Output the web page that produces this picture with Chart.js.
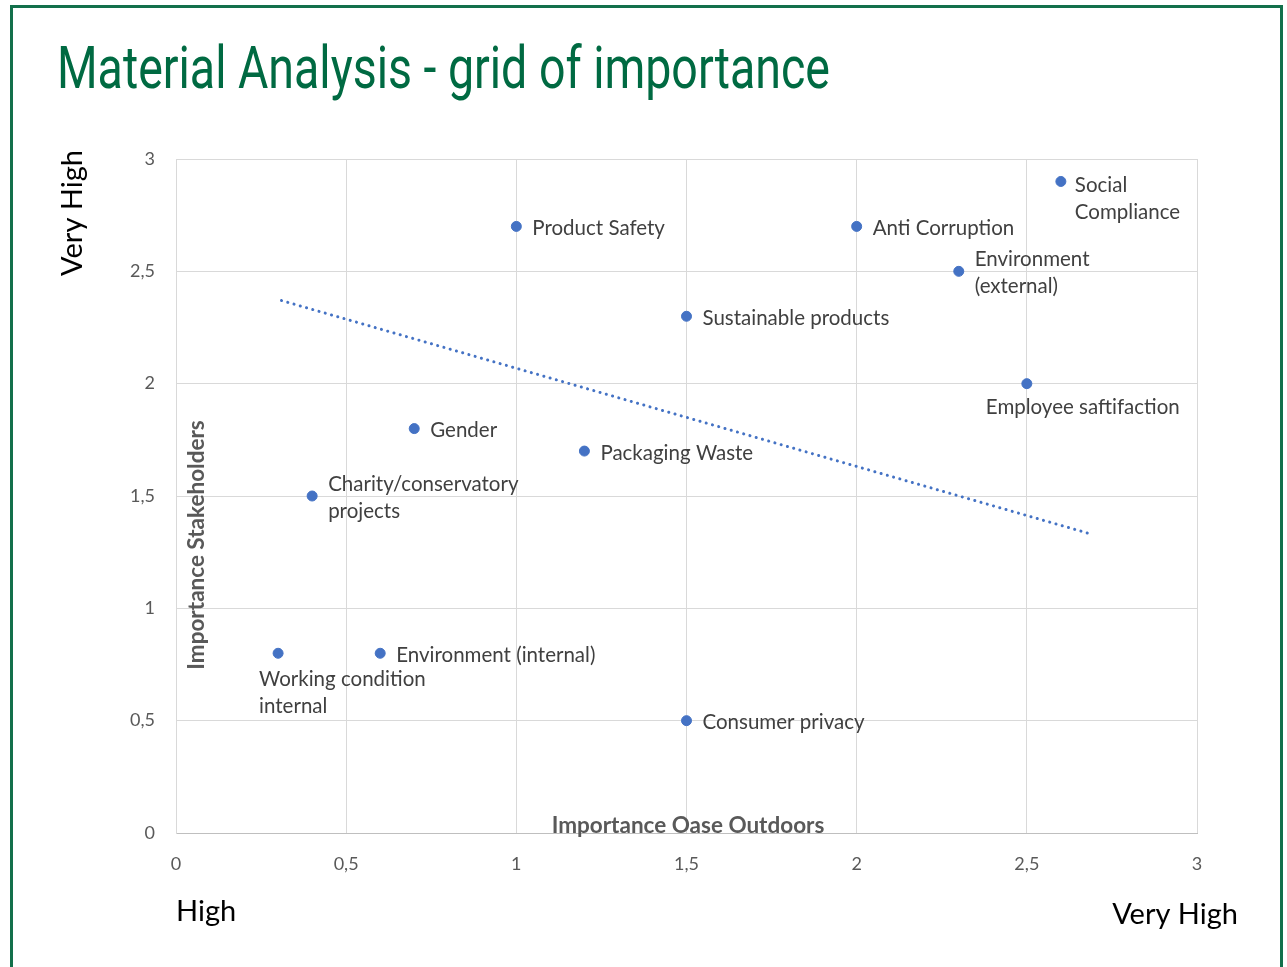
<!DOCTYPE html>
<html>
<head>
<meta charset="utf-8">
<script src="https://cdn.jsdelivr.net/npm/chart.js@4/dist/chart.umd.min.js"></script>
<style>
  html, body { margin: 0; padding: 0; background: #fff; }
  #wrap { position: relative; width: 1287px; height: 967px; overflow: hidden; }
  #frame { position: absolute; left: 10px; top: 5px; width: 1273px; height: 980px;
           border: 3px solid #13704b; box-sizing: border-box; pointer-events: none; }
  canvas { position: absolute; left: 0; top: 0; }
</style>
</head>
<body>
<div id="wrap">
  <canvas id="c" width="1287" height="967"></canvas>
  <div id="frame"></div>
</div>
<script>
// ---- data ----
const topics = ["Social Compliance", "Product Safety", "Anti Corruption", "Environment (external)",
  "Sustainable products", "Employee saftifaction", "Gender", "Packaging Waste",
  "Charity/conservatory projects", "Working condition internal", "Environment (internal)", "Consumer privacy"];
const importanceOase = [2.6, 1.0, 2.0, 2.3, 1.5, 2.5, 0.7, 1.2, 0.4, 0.3, 0.6, 1.5];
const importanceStakeholders = [2.9, 2.7, 2.7, 2.5, 2.3, 2.0, 1.8, 1.7, 1.5, 0.8, 0.8, 0.5];
const trendX = [0.31, 2.69];
const trendY = [2.37, 1.33];
const xTicks = [0, 0.5, 1, 1.5, 2, 2.5, 3];
const yTicks = [0, 0.5, 1, 1.5, 2, 2.5, 3];

// label lines and placement style
const labelLines = [["Social", "Compliance"], ["Product Safety"], ["Anti Corruption"], ["Environment", "(external)"],
  ["Sustainable products"], ["Employee saftifaction"], ["Gender"], ["Packaging Waste"],
  ["Charity/conservatory", "projects"], ["Working condition", "internal"], ["Environment (internal)"], ["Consumer privacy"]];
const labelPlace = ["rightTop", "right", "right", "right", "right", "below2", "right", "right",
  "right", "below", "right", "right"];

const fmt = v => String(v).replace('.', ',');
const FONT = 'Lato, "Open Sans", sans-serif';

const overlay = {
  id: 'overlay',
  afterDatasetsDraw(chart) {
    const ctx = chart.ctx;
    const meta = chart.getDatasetMeta(0);
    ctx.save();
    ctx.fillStyle = '#404040';
    ctx.font = '20.5px ' + FONT;
    ctx.textBaseline = 'middle';
    ctx.textAlign = 'left';
    const lh = 27;
    meta.data.forEach((pt, i) => {
      const lines = labelLines[i];
      const p = labelPlace[i];
      let x, y0;
      if (p === 'right') { x = pt.x + 16; y0 = pt.y + 2 - (lines.length - 1) * lh / 2; }
      else if (p === 'rightTop') { x = pt.x + 14; y0 = pt.y + 4; }
      else if (p === 'below') { x = pt.x - 19; y0 = pt.y + 26; }
      else { x = pt.x - 41; y0 = pt.y + 24; }
      lines.forEach((s, k) => ctx.fillText(s, x, y0 + k * lh));
    });
    ctx.restore();
  },
  afterDraw(chart) {
    const ctx = chart.ctx;
    ctx.save();
    // axis titles inside plot
    ctx.fillStyle = '#595959';
    ctx.font = 'bold 22.5px ' + FONT;
    ctx.textAlign = 'center';
    ctx.textBaseline = 'middle';
    ctx.fillText('Importance Oase Outdoors', 688, 826);
    ctx.save();
    ctx.translate(197, 545);
    ctx.rotate(-Math.PI / 2);
    ctx.fillText('Importance Stakeholders', 0, 0);
    ctx.restore();
    // High / Very High
    ctx.fillStyle = '#000';
    ctx.font = '29px ' + FONT;
    ctx.textAlign = 'left';
    ctx.fillText('High', 176, 912);
    ctx.textAlign = 'right';
    ctx.fillText('Very High', 1238, 915);
    ctx.save();
    ctx.translate(73, 213);
    ctx.rotate(-Math.PI / 2);
    ctx.textAlign = 'center';
    ctx.fillText('Very High', 0, 0);
    ctx.restore();
    // title
    ctx.fillStyle = '#006a42';
    ctx.font = '60px Roboto, "Liberation Sans", sans-serif';
    ctx.textAlign = 'left';
    ctx.textBaseline = 'alphabetic';
    const t = 'Material Analysis - grid of importance';
    const w = ctx.measureText(t).width;
    ctx.save();
    ctx.translate(57, 88);
    ctx.scale(773 / w, 1);
    ctx.fillText(t, 0, 0);
    ctx.restore();
    ctx.restore();
  }
};

new Chart(document.getElementById('c'), {
  type: 'scatter',
  data: {
    datasets: [
      {
        label: 'Topics',
        data: importanceOase.map((x, i) => ({ x, y: importanceStakeholders[i] })),
        backgroundColor: '#4472C4',
        borderColor: '#4472C4',
        pointRadius: 5,
        pointHoverRadius: 5
      },
      {
        type: 'line',
        label: 'Trend',
        data: trendX.map((x, i) => ({ x, y: trendY[i] })),
        borderColor: '#4472C4',
        borderWidth: 3,
        borderDash: [0.1, 6.4],
        borderCapStyle: 'round',
        pointRadius: 0,
        fill: false
      }
    ]
  },
  options: {
    responsive: false,
    animation: false,
    events: [],
    layout: { padding: { left: 106, top: 159, right: 90, bottom: 94 } },
    plugins: { legend: { display: false }, tooltip: { enabled: false }, title: { display: false } },
    scales: {
      x: {
        type: 'linear', min: 0, max: 3,
        afterFit: s => { s.height = 40; },
        afterBuildTicks: s => { s.ticks = xTicks.map(v => ({ value: v })); },
        grid: { color: '#d9d9d9', lineWidth: 1, drawTicks: false },
        border: { color: '#bfbfbf', width: 1 },
        ticks: { padding: 20, color: '#595959', font: { size: 18, family: FONT }, callback: fmt }
      },
      y: {
        type: 'linear', min: 0, max: 3,
        afterFit: s => { s.width = 70; },
        afterBuildTicks: s => { s.ticks = yTicks.map(v => ({ value: v })); },
        grid: { color: '#d9d9d9', lineWidth: 1, drawTicks: false },
        border: { color: '#d9d9d9', width: 1 },
        ticks: { padding: 21, color: '#595959', font: { size: 18, family: FONT }, callback: fmt }
      }
    }
  },
  plugins: [overlay]
});
</script>
</body>
</html>
